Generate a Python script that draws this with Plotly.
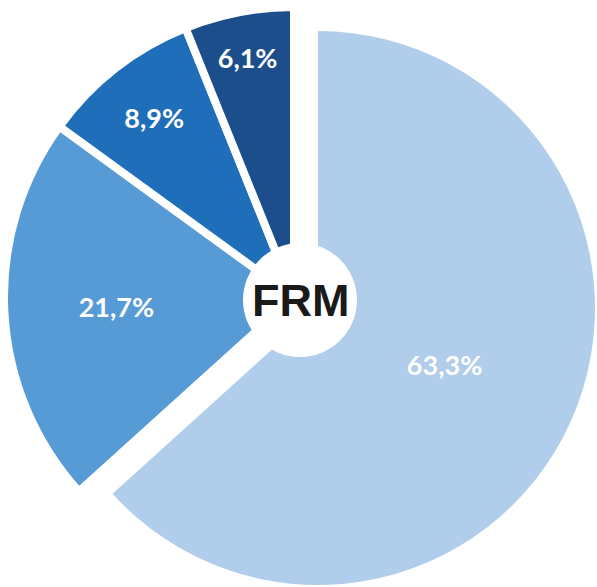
import plotly.graph_objects as go

# Data
labels = ["A", "B", "C", "D"]
values = [63.3, 21.7, 8.9, 6.1]
text_labels = ["63,3%", "21,7%", "8,9%", "6,1%"]
colors = ["#B0CDEB", "#569BD6", "#1E6EB9", "#1C4E8C"]
center_label = "FRM"

W, H = 597, 587
clear = "rgba(0,0,0,0)"

# Trace with the large (pulled) slice only
colors_a = [colors[0]] + [clear] * 3
text_a = [text_labels[0]] + [""] * 3
# Trace with the remaining slices
colors_b = [clear] + colors[1:]
text_b = [""] + text_labels[1:]

def dom(x0, x1, y0, y1):
    return dict(x=[x0 / W, x1 / W], y=[1 - y1 / H, 1 - y0 / H])

common = dict(
    labels=labels, values=values, sort=False, direction="clockwise",
    rotation=0, textinfo="text", textposition="inside",
    insidetextorientation="horizontal", hoverinfo="skip", showlegend=False,
    textfont=dict(family="Lato", size=27, color="white", weight="bold"),
)

fig = go.Figure()
fig.add_trace(go.Pie(
    text=text_a, marker=dict(colors=colors_a, line=dict(width=0)),
    domain=dom(41, 595, 31, 585), **common))
fig.add_trace(go.Pie(
    text=text_b,
    marker=dict(colors=colors_b,
                line=dict(color=["rgba(0,0,0,0)", "white", "white", "white"],
                          width=[0, 8, 8, 8])),
    domain=dom(4, 584, 7, 587), **common))

cx, cy, r = 300, 300, 57
fig.add_shape(type="circle", xref="paper", yref="paper",
              x0=(cx - r) / W, x1=(cx + r) / W,
              y0=1 - (cy + r) / H, y1=1 - (cy - r) / H,
              fillcolor="white", line=dict(width=0), layer="above")
fig.add_annotation(x=cx / W, y=1 - cy / H, xref="paper", yref="paper",
                   text=center_label, showarrow=False,
                   font=dict(family="Liberation Sans", size=45, color="#1a1a1a",
                             weight="bold"),
                   xanchor="center", yanchor="middle")

fig.update_layout(width=W, height=H, margin=dict(l=0, r=0, t=0, b=0),
                  paper_bgcolor="white", plot_bgcolor="white")
fig.write_html("out.html", config={"displayModeBar": False},
               post_script="document.body.style.margin='0';document.body.style.overflow='hidden';")
